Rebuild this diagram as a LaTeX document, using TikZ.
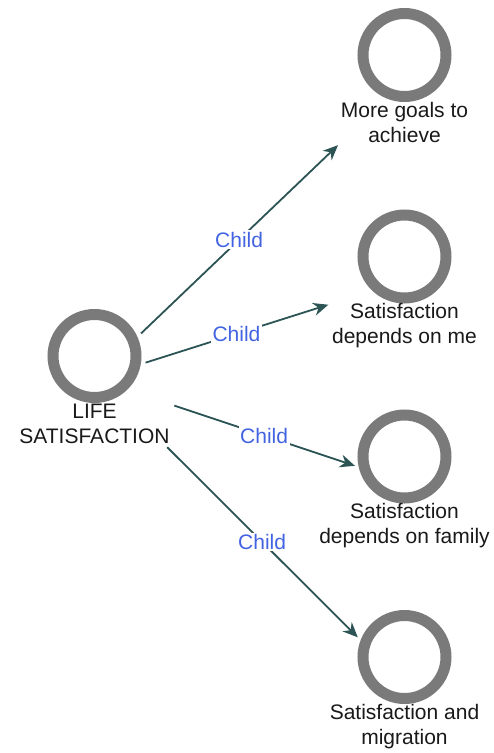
\documentclass[tikz,border=0pt]{standalone}
\usepackage{fontspec}
\setmainfont{Liberation Sans}
\usetikzlibrary{positioning, arrows.meta}

\definecolor{ringgray}{RGB}{122,122,122}
\definecolor{linkteal}{RGB}{44,84,84}
\definecolor{childblue}{RGB}{66,100,226}

\begin{document}
\begin{tikzpicture}[
  x=1pt, y=-1pt,
  concept/.style={circle, draw=ringgray, line width=11pt, minimum size=83pt, inner sep=0pt},
  caption/.style={align=center, inner sep=0pt, outer sep=0pt, text=black!90, font=\fontsize{21}{25}\selectfont},
  link/.style={-{Stealth[length=15pt, width=13pt]}, draw=linkteal, line width=1.8pt, shorten <=5pt, shorten >=4pt},
  tag/.style={fill=white, text=childblue, inner sep=1.5pt, font=\fontsize{21}{25}\selectfont}
]
\useasboundingbox (0,0) rectangle (494,753);

% root concept
\node[concept] (r0) at (94.5,356) {};
\node[caption, below=1pt of r0] (t0) {LIFE\\SATISFACTION};

% children, one column on the right
\node[concept] (r1) at (404.5,55) {};
\node[caption, below=0pt of r1] (t1) {More goals to\\achieve};
\node[concept] (r2) at (404.5,256.5) {};
\node[caption, below=0pt of r2] (t2) {Satisfaction\\depends on me};
\node[concept] (r3) at (404.5,456.5) {};
\node[caption, below=0pt of r3] (t3) {Satisfaction\\depends on family};
\node[concept] (r4) at (404.5,657) {};
\node[caption, below=0pt of r4] (t4) {Satisfaction and\\migration};

\draw[link] (r0.24) -- node[tag] {Child} (t1.south west);
\draw[link] (r0.-10) -- node[tag] {Child} (t2.north west);
\draw[link] (t0.north east) -- node[tag] {Child} (r3.193);
\draw[link] (t0.-16) -- node[tag] {Child} (r4.159);
\end{tikzpicture}
\end{document}
